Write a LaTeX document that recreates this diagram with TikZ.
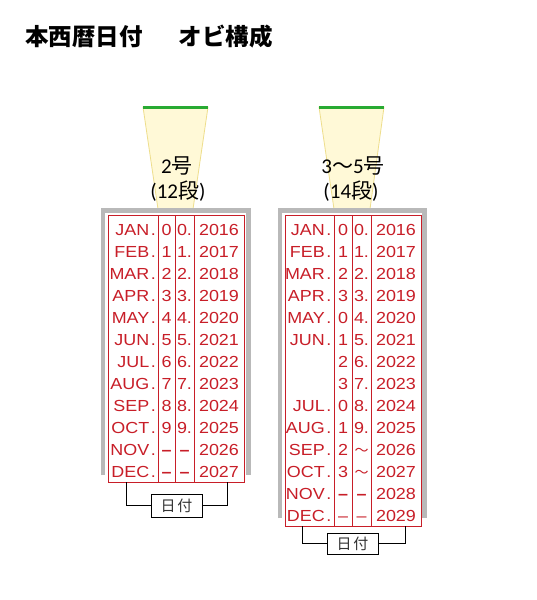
\documentclass[tikz,border=0pt]{standalone}
\usepackage{fontspec}
\setmainfont{Liberation Sans}
\newfontfamily\jpfont{Noto Sans CJK JP}
\newfontfamily\stampfont[FakeStretch=1.12]{Liberation Sans}
\newfontfamily\calfont{Carlito}
\definecolor{stampred}{RGB}{200,30,40}
\definecolor{framegray}{RGB}{185,185,185}
\definecolor{lampfill}{RGB}{255,249,215}
\definecolor{lampedge}{RGB}{238,222,140}
\definecolor{lampgreen}{RGB}{40,170,50}
\tikzset{
  stamptext/.style={font=\stampfont\fontsize{16}{16}\selectfont, text=stampred, inner sep=0pt},
  month/.style={stamptext, anchor=base east},
  digit/.style={stamptext, anchor=base},
  tilde/.style={font=\jpfont\fontsize{14}{14}\selectfont, text=stampred, inner sep=0pt, anchor=base},
  redbox/.style={draw=stampred, line width=1pt, inner sep=0pt},
  redline/.style={draw=stampred, line width=1pt},
  frame/.style={draw=framegray, line width=4.5pt, miter limit=10},
  lamp/.style={fill=lampfill, draw=lampedge, line width=0.8pt},
  greenbar/.style={draw=lampgreen, line width=3pt},
  sizelabel/.style={font=\jpfont\fontsize{21}{21}\selectfont, inner sep=0pt, anchor=base},
  datelabel/.style={draw=black, line width=0.9pt, font=\jpfont\fontsize{15}{15}\selectfont, text=black!80, inner sep=0pt, minimum width=51pt},
  bracket/.style={draw=black, line width=0.9pt},
}
\begin{document}
\begin{tikzpicture}[x=1pt,y=-1pt]
\useasboundingbox[fill=white] (0,0) rectangle (536,600);

% title
\node[anchor=west, inner sep=0pt, font=\jpfont\bfseries\fontsize{23.5}{23.5}\selectfont] (title) at (25,37) {本西暦日付\hspace{36pt}オビ構成};

% lamps
\path[lamp] (143,107) -- (208,107) -- (193,209) -- (158,209) -- cycle;
\draw[greenbar] (143,107) -- (208,107);
\path[lamp] (319,107) -- (384,107) -- (370,209) -- (334,209) -- cycle;
\draw[greenbar] (319,107) -- (384,107);

% size labels
\node[sizelabel] (L-size) at (177,173) {{\calfont 2}号};
\node[sizelabel] (L-rows) at (178,198) {{\calfont (12}段{\calfont )}};
\node[sizelabel] (R-size) at (353,173) {{\calfont 3}～{\calfont 5}号};
\node[sizelabel] (R-rows) at (351,198) {{\calfont (14}段{\calfont )}};

% gray frames
\draw[frame] (103,475) -- (103,210.5) -- (248.7,210.5) -- (248.7,475);
\draw[frame] (280,518) -- (280,210.5) -- (424.5,210.5) -- (424.5,518);

% ===== left stamp (12 rows) =====
\node[redbox, minimum width=136pt, minimum height=267pt] (Lbox) at (176,348.5) {};
\foreach \x in {158,175,194} \draw[redline] (\x,215) -- (\x,482);
\foreach \m [count=\i] in {JAN,FEB,MAR,APR,MAY,JUN,JUL,AUG,SEP,OCT,NOV,DEC} {
  \pgfmathsetmacro\yy{235+22.06*(\i-1)}
  \pgfmathtruncatemacro\yr{2015+\i}
  \node[month] (L-m-\i) at (156,\yy) {\m\kern1.5pt.};
  \node[digit] (L-y-\i) at (219,\yy) {\yr};
}
\foreach \i in {1,...,10} {
  \pgfmathsetmacro\yy{235+22.06*(\i-1)}
  \pgfmathtruncatemacro\dd{\i-1}
  \node[digit] (L-a-\i) at (166.5,\yy) {\dd};
  \node[digit] (L-b-\i) at (184.5,\yy) {\dd.};
}
\foreach \i in {11,12} {
  \pgfmathsetmacro\yy{235+22.06*(\i-1)}
  \node[digit] (L-a-\i) at (166.5,\yy) {\bfseries –};
  \node[digit] (L-b-\i) at (184.5,\yy) {\bfseries –};
}
\coordinate (L-br1) at (126,482);
\coordinate (L-br2) at (227,482);
\node[datelabel, minimum height=23pt] (L-date) at (176.5,505.5) {日\hspace{2pt}付};
\draw[bracket] (L-br1) |- (L-date.west);
\draw[bracket] (L-br2) |- (L-date.east);

% ===== right stamp (14 rows) =====
\node[redbox, minimum width=136pt, minimum height=311pt] (Rbox) at (353,370.5) {};
\foreach \x in {334,352,371} \draw[redline] (\x,215) -- (\x,526);
\foreach \i/\m in {1/JAN,2/FEB,3/MAR,4/APR,5/MAY,6/JUN,9/JUL,10/AUG,11/SEP,12/OCT,13/NOV,14/DEC} {
  \pgfmathsetmacro\yy{235+22.06*(\i-1)}
  \node[month] (R-m-\i) at (331.5,\yy) {\m\kern1.5pt.};
}
\foreach \i in {1,...,14} {
  \pgfmathsetmacro\yy{235+22.06*(\i-1)}
  \pgfmathtruncatemacro\yr{2015+\i}
  \node[digit] (R-y-\i) at (396,\yy) {\yr};
}
\foreach \i/\d in {1/0,2/1,3/2,4/3,5/0,6/1,7/2,8/3,9/0,10/1,11/2,12/3} {
  \pgfmathsetmacro\yy{235+22.06*(\i-1)}
  \node[digit] (R-a-\i) at (343,\yy) {\d};
}
\foreach \i in {1,...,10} {
  \pgfmathsetmacro\yy{235+22.06*(\i-1)}
  \pgfmathtruncatemacro\dd{\i-1}
  \node[digit] (R-b-\i) at (361.5,\yy) {\dd.};
}
\foreach \i in {11,12} {
  \pgfmathsetmacro\yy{235+22.06*(\i-1)}
  \node[tilde] (R-b-\i) at (361.5,\yy) {～};
}
\node[digit] (R-a-13) at (343,{235+22.06*12}) {\bfseries –};
\node[digit] (R-b-13) at (361.5,{235+22.06*12}) {\bfseries –};
\node[digit] (R-a-14) at (343,{235+22.06*13}) {–};
\node[digit] (R-b-14) at (361.5,{235+22.06*13}) {–};
\coordinate (R-br1) at (302,526);
\coordinate (R-br2) at (405,526);
\node[datelabel, minimum height=21pt] (R-date) at (352.5,543.5) {日\hspace{2pt}付};
\draw[bracket] (R-br1) |- (R-date.west);
\draw[bracket] (R-br2) |- (R-date.east);
\end{tikzpicture}
\end{document}
